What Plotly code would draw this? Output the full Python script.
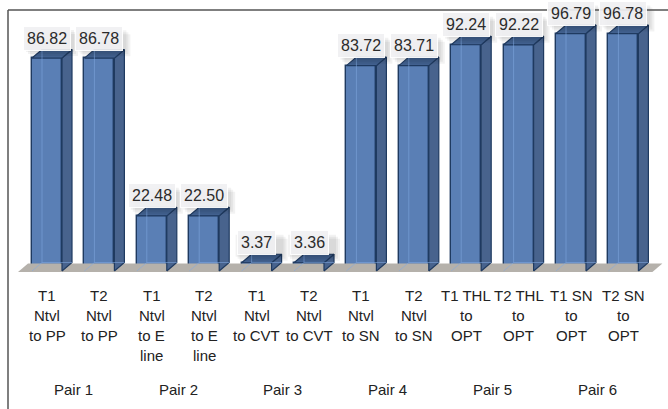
import plotly.graph_objects as go

# ---- data -------------------------------------------------------------
categories = [
    "T1 Ntvl to PP", "T2 Ntvl to PP",
    "T1 Ntvl to E line", "T2 Ntvl to E line",
    "T1 Ntvl to CVT", "T2 Ntvl to CVT",
    "T1 Ntvl to SN", "T2 Ntvl to SN",
    "T1 THL to OPT", "T2 THL to OPT",
    "T1 SN to OPT", "T2 SN to OPT",
]
tick_lines = [
    ["T1", "Ntvl", "to PP"], ["T2", "Ntvl", "to PP"],
    ["T1", "Ntvl", "to E", "line"], ["T2", "Ntvl", "to E", "line"],
    ["T1", "Ntvl", "to CVT"], ["T2", "Ntvl", "to CVT"],
    ["T1", "Ntvl", "to SN"], ["T2", "Ntvl", "to SN"],
    ["T1 THL", "to", "OPT"], ["T2 THL", "to", "OPT"],
    ["T1 SN", "to", "OPT"], ["T2 SN", "to", "OPT"],
]
values = [86.82, 86.78, 22.48, 22.50, 3.37, 3.36,
          83.72, 83.71, 92.24, 92.22, 96.79, 96.78]
pairs = ["Pair 1", "Pair 2", "Pair 3", "Pair 4", "Pair 5", "Pair 6"]

# ---- geometry (pixels) -------------------------------------------------
W, H = 668, 409
PX0, PXS = 47.0, 52.4        # first bar centre, bar spacing
Y0PX, YS = 271.0, 2.453      # baseline row, pixels per unit
BAR_PX = 30.0                # front face width
DXP, DYP = 10.0, 8.5         # depth offset of the 3D look

xr = [-PX0 / PXS, (W - PX0) / PXS]
yr = [-(H - Y0PX) / YS, Y0PX / YS]
hw = BAR_PX / PXS / 2
dx = DXP / PXS
dy = DYP / YS

def px_to_y(p):
    return (Y0PX - p) / YS

FRONT = "#5A7FB5"
SIDE = "#48638D"
TOP = "#41608E"
EDGE = "#1F3A60"
FLOOR = "#B5B1AB"
FONT = "Liberation Sans, Arial"

idx = list(range(len(values)))
fig = go.Figure()

# floor slab
fl, fr = -0.553, len(values) - 1 + 0.553
fy = px_to_y(272)
fig.add_trace(go.Scatter(
    x=[fl, fr, fr + dx, fl + dx, fl],
    y=[fy, fy, fy + dy, fy + dy, fy],
    fill="toself", fillcolor=FLOOR, line=dict(width=0),
    mode="lines", hoverinfo="skip", showlegend=False))

# side and top faces of each bar
sx, sy, tx, ty = [], [], [], []
for i, v in zip(idx, values):
    sx += [i + hw, i + hw + dx, i + hw + dx, i + hw, i + hw, None]
    sy += [0, dy, v + dy, v, 0, None]
    tx += [i - hw, i - hw + dx, i + hw + dx, i + hw, i - hw, None]
    ty += [v, v + dy, v + dy, v, v, None]
fig.add_trace(go.Scatter(x=sx, y=sy, fill="toself", fillcolor=SIDE,
                         line=dict(color=EDGE, width=1.2), mode="lines",
                         hoverinfo="skip", showlegend=False))
fig.add_trace(go.Scatter(x=tx, y=ty, fill="toself", fillcolor=TOP,
                         line=dict(color=EDGE, width=1.2), mode="lines",
                         hoverinfo="skip", showlegend=False))

# front faces
fig.add_trace(go.Bar(x=idx, y=values, width=2 * hw, base=0,
                     marker=dict(color=FRONT, line=dict(color=EDGE, width=1.4)),
                     hovertext=categories, showlegend=False))

# hidden back edges seen through the glassy front
bx, by = [], []
for i, v in zip(idx, values):
    bx += [i - hw + dx, i - hw + dx, None, i - hw, i - hw + dx, i + hw + dx, None]
    by += [v + dy, dy, None, 0, dy, dy, None]
fig.add_trace(go.Scatter(x=bx, y=by, mode="lines",
                         line=dict(color="rgba(130,170,225,0.55)", width=1),
                         hoverinfo="skip", showlegend=False))

annotations = []
shapes = []
# value labels sitting in a pale box with a soft drop shadow
LBL_HALF = 24 / PXS
LBL_H = 11 / YS
for i, v in zip(idx, values):
    ly = v + 20 / YS
    for k, a in enumerate([0.05, 0.05, 0.05]):
        off = (3 + 2 * k)
        shapes.append(dict(
            type="rect", xref="x", yref="y", layer="above",
            x0=i - LBL_HALF + off / PXS, x1=i + LBL_HALF + off / PXS,
            y0=ly - LBL_H - off / YS, y1=ly + LBL_H - off / YS,
            fillcolor=f"rgba(0,0,0,{a})", line=dict(width=0)))
    annotations.append(dict(
        x=i, y=ly, xref="x", yref="y", text=f"{v:.2f}", showarrow=False,
        font=dict(family=FONT, size=16, color="#2b2b2b"),
        bgcolor="rgba(240,240,242,0.92)", bordercolor="rgba(255,255,255,0.9)",
        borderwidth=1, borderpad=3))

# category labels, one annotation per line
for i, lines in enumerate(tick_lines):
    for k, t in enumerate(lines):
        annotations.append(dict(
            x=i, y=px_to_y(295 + 20 * k), xref="x", yref="y", text=t,
            showarrow=False, font=dict(family=FONT, size=15, color="#222")))

# pair group labels
for k, p in enumerate(pairs):
    annotations.append(dict(
        x=2 * k + 0.5, y=px_to_y(389), xref="x", yref="y", text=p,
        showarrow=False, font=dict(family=FONT, size=15, color="#222")))

# frame lines on the top and left
shapes += [
    dict(type="line", xref="paper", yref="paper", x0=8 / W, x1=1,
         y0=1 - 10 / H, y1=1 - 10 / H, line=dict(color="#555", width=1.5)),
    dict(type="line", xref="paper", yref="paper", x0=8 / W, x1=8 / W,
         y0=0, y1=1 - 10 / H, line=dict(color="#555", width=1.5)),
]

fig.update_layout(
    width=W, height=H, margin=dict(l=0, r=0, t=0, b=0),
    paper_bgcolor="white", plot_bgcolor="white",
    xaxis=dict(range=xr, visible=False, fixedrange=True),
    yaxis=dict(range=yr, visible=False, fixedrange=True),
    annotations=annotations, shapes=shapes, bargap=0,
)

fig.write_html("out.html")
